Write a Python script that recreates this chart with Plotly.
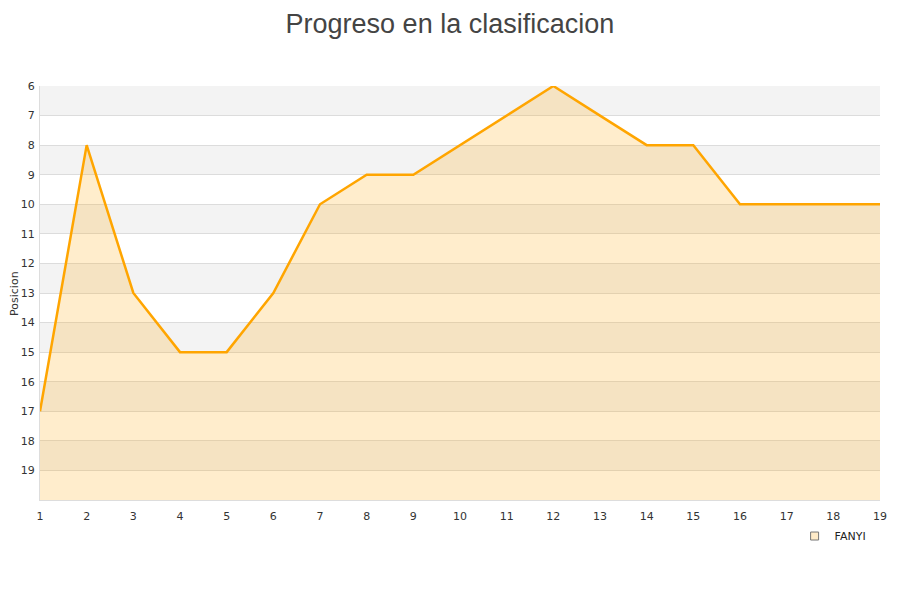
import plotly.graph_objects as go

jornadas = list(range(1, 20))
posiciones = [17, 8, 13, 15, 15, 13, 10, 9, 9, 8, 7, 6, 7, 8, 8, 10, 10, 10, 10]
equipo = "FANYI"
titulo = "Progreso en la clasificacion"
eje_y = "Posicion"
y_ticks = list(range(6, 20))
y_min, y_max = 6, 20

fig = go.Figure()

# baseline for fill
fig.add_trace(go.Scatter(x=jornadas, y=[y_max] * len(jornadas), mode="lines",
                         line=dict(width=0), showlegend=False, hoverinfo="skip"))
fig.add_trace(go.Scatter(x=jornadas, y=posiciones, mode="lines", fill="tonexty",
                         fillcolor="rgba(255,165,0,0.2)",
                         line=dict(color="#FFA500", width=2.5), showlegend=False))
fig.add_trace(go.Scatter(x=[None], y=[None], mode="markers", name=equipo,
                         marker=dict(symbol="square", size=8, color="#FFEBC8",
                                     line=dict(color="#777", width=1))))

shapes = []
for i, t in enumerate(range(y_min, y_max)):
    if i % 2 == 0:
        shapes.append(dict(type="rect", xref="paper", yref="y", x0=0, x1=1, y0=t, y1=t + 1,
                           fillcolor="#F3F3F3", line=dict(width=0), layer="below"))

fig.update_layout(
    width=900, height=600,
    paper_bgcolor="white", plot_bgcolor="white",
    title=dict(text=titulo, x=0.491, xanchor="center", y=0.99, yanchor="top",
               font=dict(family="Liberation Sans", size=27, color="#444")),
    margin=dict(l=32, r=28, t=78, b=108, autoexpand=False),
    shapes=shapes,
    font=dict(family="DejaVu Sans", size=11, color="#333"),
    legend=dict(x=0.99, xanchor="right", y=-0.087, yanchor="middle", orientation="h",
                font=dict(size=11, color="#222"), bgcolor="rgba(0,0,0,0)", itemwidth=30),
    showlegend=True,
    annotations=[dict(text=eje_y, xref="paper", yref="paper", x=-0.031, y=0.5,
                      xanchor="center", yanchor="middle", textangle=-90, showarrow=False,
                      font=dict(size=11, color="#333"))],
)
fig.update_xaxes(range=[1, 19], tickmode="array", tickvals=jornadas, showgrid=False,
                 zeroline=False, showline=True, linecolor="#ddd", ticks="",
                 automargin=False, ticklabelstandoff=6)
fig.update_yaxes(range=[y_max, y_min], tickmode="array", tickvals=y_ticks,
                 showgrid=True, gridcolor="#dcdcdc", zeroline=False,
                 showline=True, linecolor="#ddd", automargin=False,
                 ticklabelstandoff=2)

fig.write_html("out.html")
